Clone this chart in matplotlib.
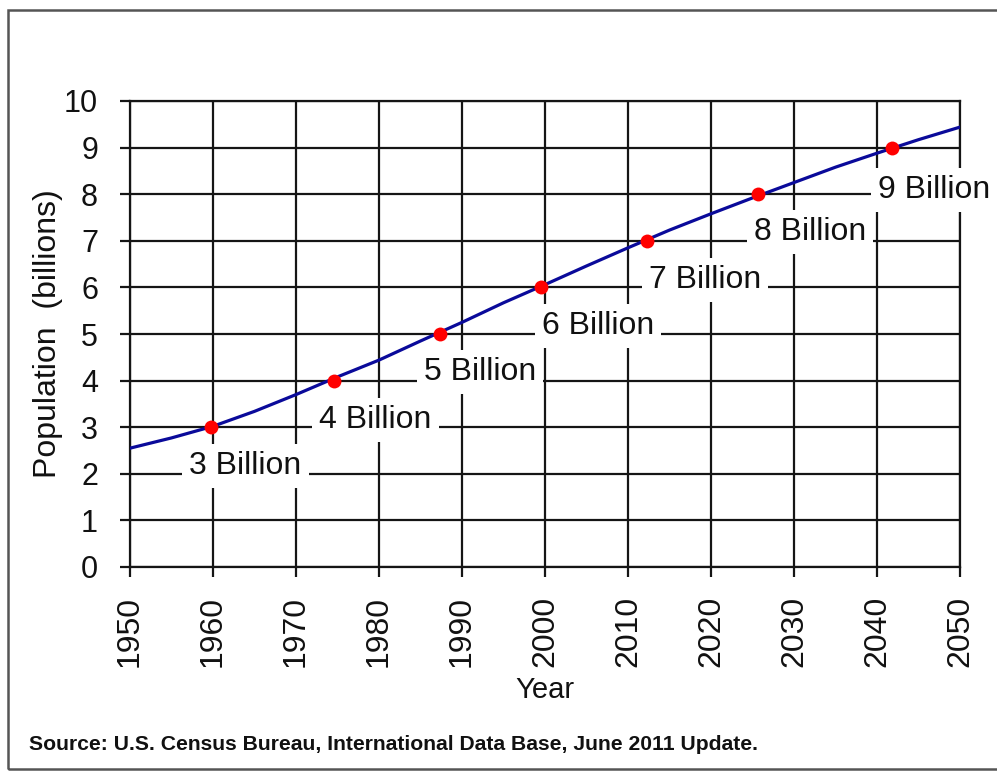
import matplotlib
matplotlib.use('Agg')
import matplotlib.pyplot as plt
from matplotlib import font_manager
from matplotlib.patches import Rectangle

plt.rcParams['font.family'] = ['Liberation Sans', 'DejaVu Sans']

# world population estimate / projection (billions)
years = [1950, 1955, 1960, 1965, 1970, 1975, 1980, 1985, 1990, 1995, 2000,
         2005, 2010, 2015, 2020, 2025, 2030, 2035, 2040, 2045, 2050]
population = [2.55, 2.77, 3.02, 3.34, 3.70, 4.08, 4.44, 4.85, 5.25, 5.67, 6.06,
              6.46, 6.85, 7.23, 7.58, 7.92, 8.25, 8.58, 8.88, 9.17, 9.44]

# years when each billion was / will be reached
milestone_years = [1959.8, 1974.6, 1987.3, 1999.5, 2012.3, 2025.7, 2041.8]
milestone_values = [3, 4, 5, 6, 7, 8, 9]
milestone_labels = ['3 Billion', '4 Billion', '5 Billion', '6 Billion',
                    '7 Billion', '8 Billion', '9 Billion']
# where the labels sit (data coords)
label_x = [1963.9, 1979.6, 1992.2, 2006.4, 2019.3, 2031.9, 2046.9]
label_y = [2.17, 3.15, 4.18, 5.17, 6.16, 7.19, 8.09]

x_ticks = list(range(1950, 2051, 10))
y_ticks = list(range(0, 11))

fig = plt.figure(figsize=(9.97, 7.73), dpi=100)
ax = fig.add_axes([130 / 997, 1 - 567 / 773, 830 / 997, 466 / 773])

grid_color = '#151515'
ax.plot(years, population, color='#0a0a9a', linewidth=2.3, zorder=4)
ax.plot(milestone_years, milestone_values, 'o', color='#ff0000',
        markersize=10, markeredgewidth=0, zorder=5)

for lx, ly, txt in zip(label_x, label_y, milestone_labels):
    ax.text(lx, ly, txt, fontsize=23, ha='center', va='center', color='#111111',
            zorder=3,
            bbox=dict(boxstyle='square,pad=0.22', facecolor='white', edgecolor='none'))

ax.set_xlim(1950, 2050)
ax.set_ylim(0, 10)
ax.set_xticks(x_ticks)
ax.set_yticks(y_ticks)
ax.set_xticklabels([str(y) for y in x_ticks], rotation=90)
ax.tick_params(axis='x', labelsize=23, length=7, width=1.6, color=grid_color,
               pad=14, labelcolor='#111111')
ax.tick_params(axis='y', labelsize=22, length=7, width=1.6, color=grid_color,
               pad=16, labelcolor='#111111')
ax.grid(True, color=grid_color, linewidth=1.6)
ax.set_axisbelow(True)
for sp in ax.spines.values():
    sp.set_color(grid_color)
    sp.set_linewidth(1.6)

ax.set_xlabel('Year', fontsize=21, color='#111111', labelpad=6)
ax.set_ylabel('Population  (billions)', fontsize=23, color='#111111', labelpad=1)

names = {f.name for f in font_manager.fontManager.ttflist}
src_family = 'Liberation Sans Narrow' if 'Liberation Sans Narrow' in names else 'Liberation Sans'
fig.text(29 / 997, 1 - 744 / 773,
         'Source: U.S. Census Bureau, International Data Base, June 2011 Update.',
         fontsize=15.2, fontweight='bold', family=src_family, color='#111111',
         ha='left', va='center')

# frame around the whole picture
fig.patches.append(Rectangle((8 / 997, 4 / 773), 1.2, 1 - 14 / 773,
                             transform=fig.transFigure, fill=False,
                             edgecolor='#555555', linewidth=1.8))

fig.savefig('out.png', dpi=100)
